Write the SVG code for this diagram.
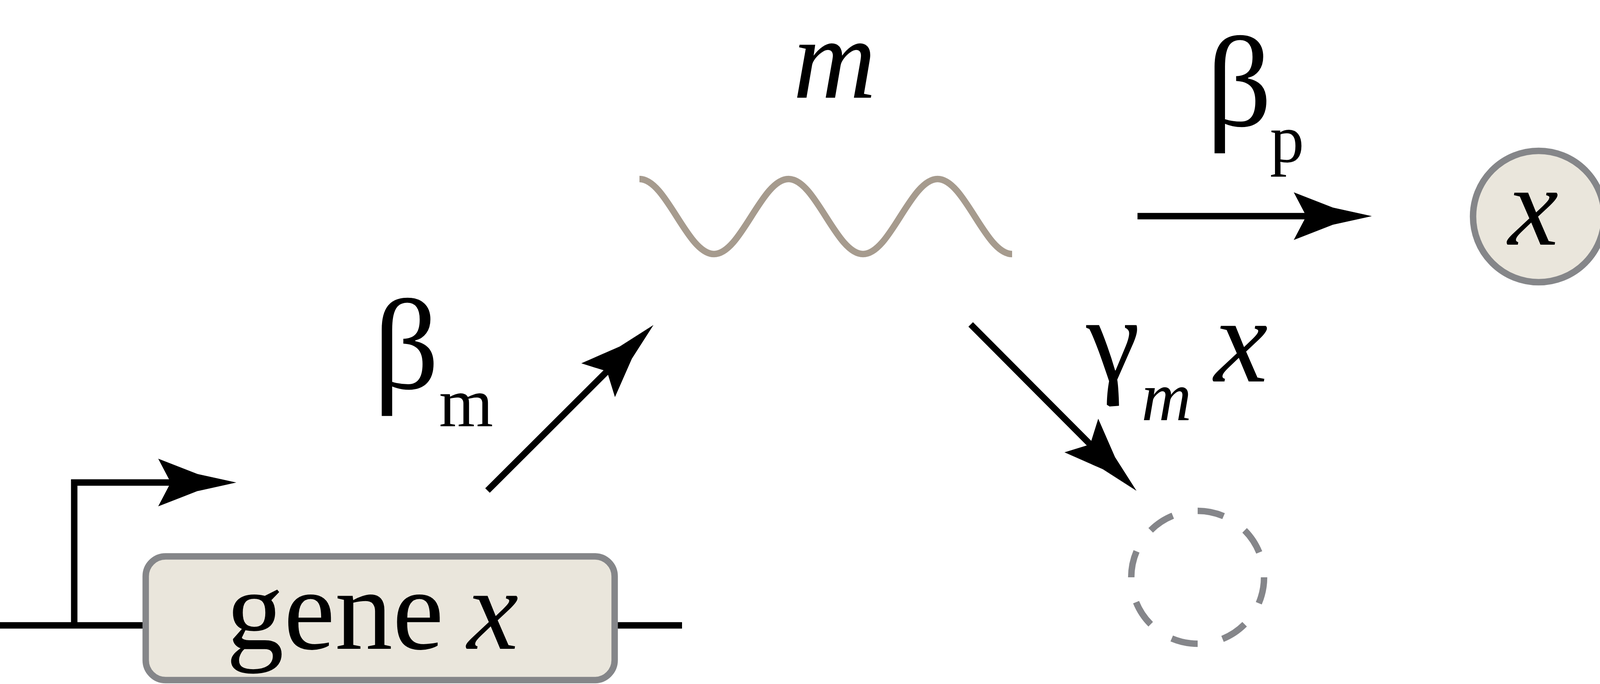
<svg xmlns="http://www.w3.org/2000/svg" width="4909" height="1750" viewBox="0 0 4909 1750">
<defs>
<style>
.ln{fill:none;stroke:#000;stroke-width:16.5;stroke-linejoin:miter;stroke-linecap:butt}
.nd{fill:#EAE6DC;stroke:#858689;stroke-width:16.5}
.sink{fill:none;stroke:#85868A;stroke-width:16.5;stroke-dasharray:23 22}
.wave{fill:none;stroke:#A69B8E;stroke-width:16.5}
text{font-family:"Liberation Serif","Times New Roman",serif;fill:#000}
.it{font-style:italic}
</style>
<marker id="ah" markerUnits="userSpaceOnUse" viewBox="-205 -65 210 130" refX="-165" refY="0" markerWidth="210" markerHeight="130" orient="auto">
<path d="M0,0 L-100,-22 L-200,-61 L-168,0 L-200,61 L-100,22 Z" fill="#000"/>
</marker>
</defs>
<rect width="4909" height="1750" fill="#fff"/>
<g id="connectors">
<path id="dna" class="ln" d="M0,1600 H1746"/>
<path id="promoter" class="ln" d="M190,1600 V1234.6 H440" marker-end="url(#ah)"/>
<path id="beta_m" class="ln" d="M1248,1255 L1556,948" marker-end="url(#ah)"/>
<path id="beta_p" class="ln" d="M2912,553 H3347" marker-end="url(#ah)"/>
<path id="gamma_m" class="ln" d="M2485,830 L2793,1139" marker-end="url(#ah)"/>
<path id="gamma_p" class="ln" d="M4145,830 L4453,1138" marker-end="url(#ah)"/>
</g>
<g id="gene">
<rect class="nd" x="373" y="1423.5" width="1200.5" height="316.5" rx="51" ry="51"/>
<text x="579" y="1660" font-size="295">gene</text>
<text class="it" x="1196" y="1660" font-size="295">x</text>
</g>
<g id="mrna">
<path class="wave" d="M1637,458 C1706.3,458 1758.5,650 1827.8,650 C1897.1,650 1949.3,458 2018.6,458 C2087.9,458 2140.1,650 2209.4,650 C2278.7,650 2330.9,458 2400.2,458 C2469.5,458 2521.7,650 2591,650"/>
<text class="it" x="2030" y="250" font-size="295">m</text>
</g>
<g id="protein">
<circle class="nd" cx="3939" cy="554" r="168"/>
<text class="it" x="3925" y="626" font-size="290" text-anchor="middle">x</text>
</g>
<g id="sink_m">
<circle class="sink" cx="3066" cy="1477" r="170" pathLength="360"/>
</g>
<g id="sink_p">
<circle class="sink" cx="4726" cy="1477" r="170" pathLength="360"/>
</g>
<g id="labels">
<text x="956" y="994" font-size="330">β</text>
<text x="1124" y="1090" font-size="178">m</text>
<text x="3088" y="322" font-size="330">β</text>
<text x="3251" y="415" font-size="175">p</text>
<text x="2781" y="974" font-size="310">γ</text>
<text class="it" x="2922" y="1075" font-size="178">m</text>
<text class="it" x="3108" y="976" font-size="310">x</text>
<text x="4476" y="974" font-size="310">γ</text>
<text class="it" x="4618" y="1074" font-size="178">p</text>
<text class="it" x="4765" y="976" font-size="310">x</text>
</g>
</svg>
